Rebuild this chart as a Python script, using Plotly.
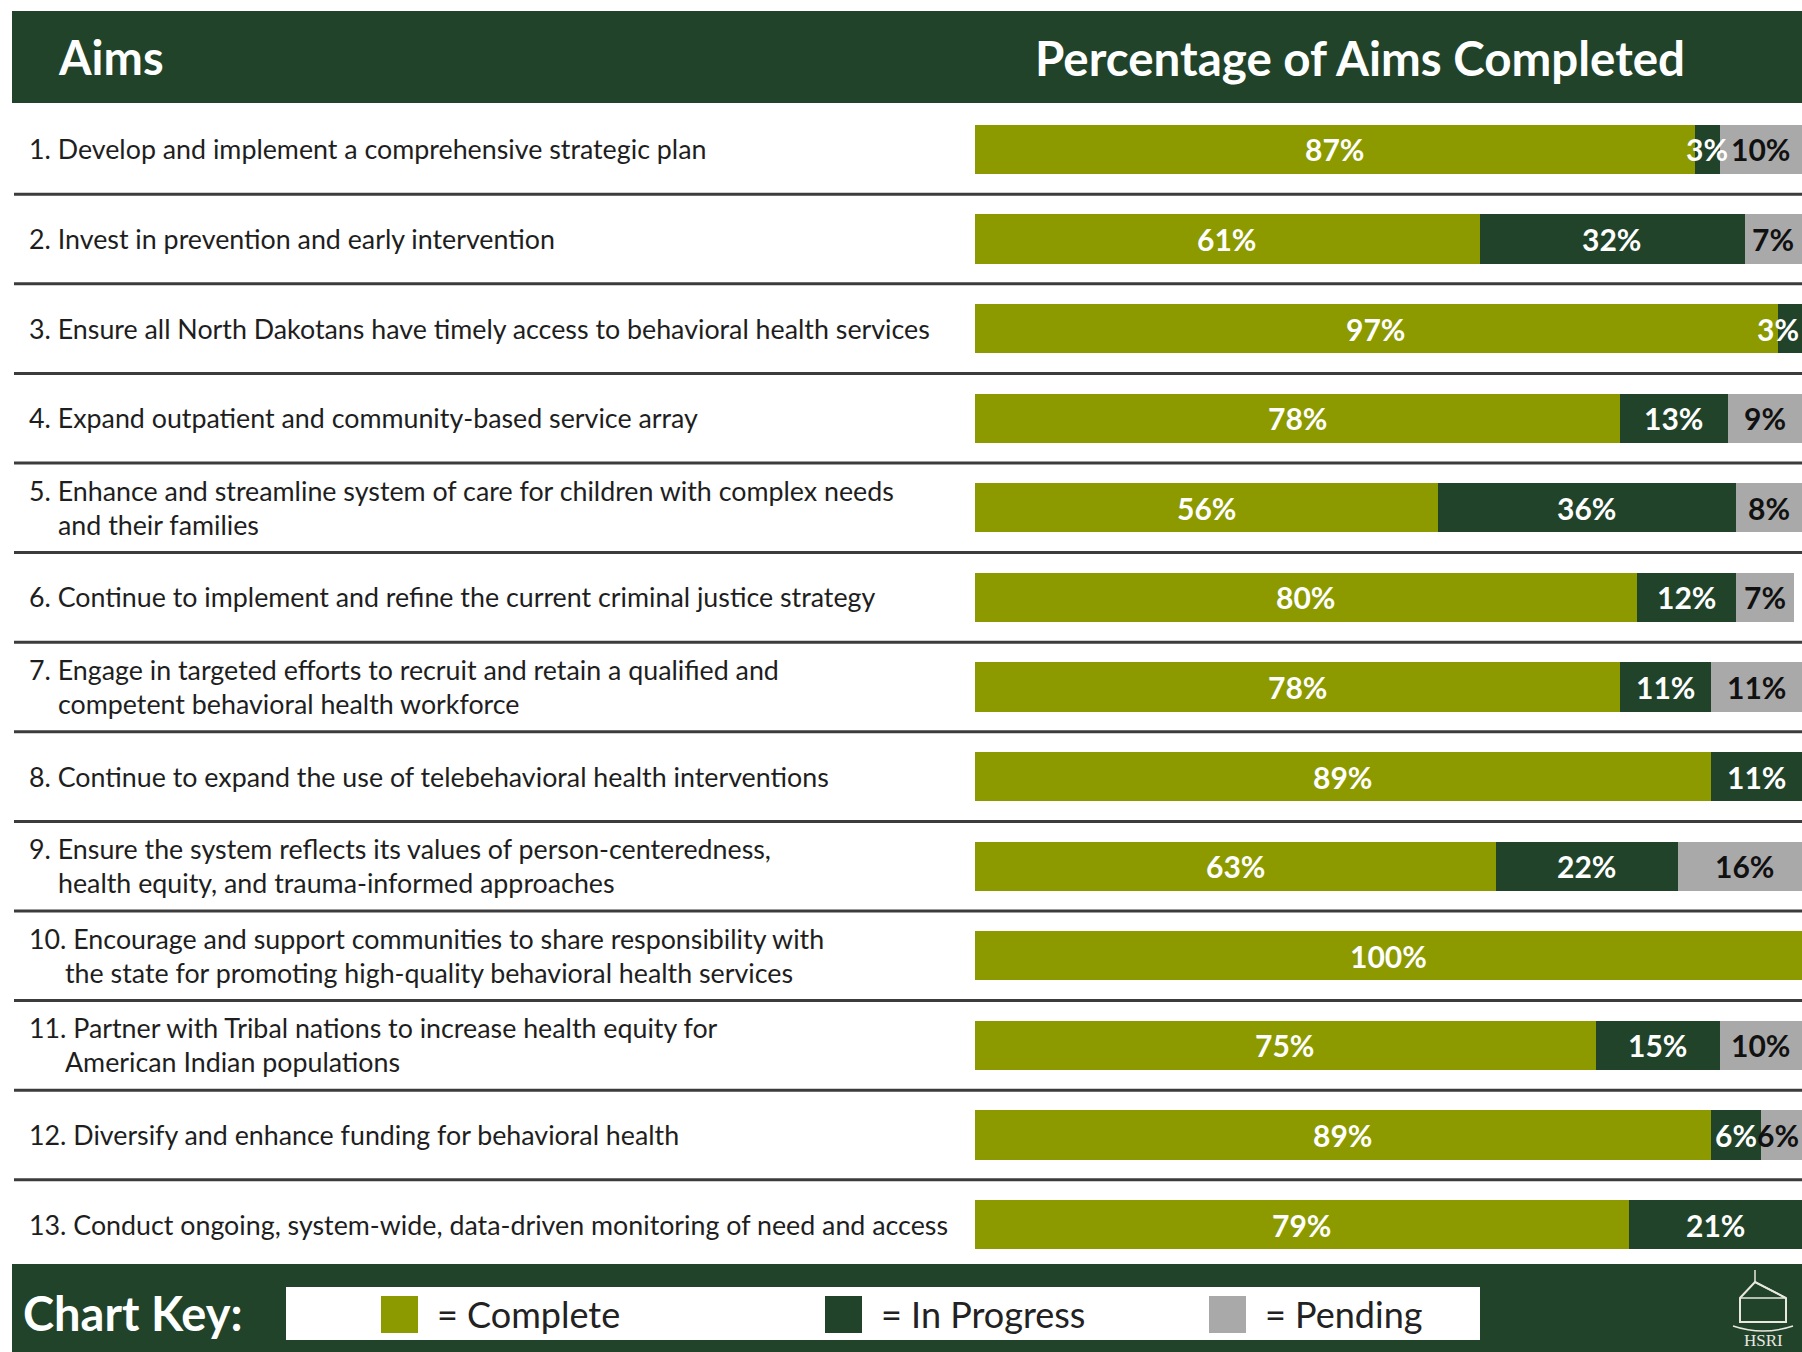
import plotly.graph_objects as go

# ---- data -------------------------------------------------------------
aims = [
    "1. Develop and implement a comprehensive strategic plan",
    "2. Invest in prevention and early intervention",
    "3. Ensure all North Dakotans have timely access to behavioral health services",
    "4. Expand outpatient and community-based service array",
    "5. Enhance and streamline system of care for children with complex needs\nand their families",
    "6. Continue to implement and refine the current criminal justice strategy",
    "7. Engage in targeted efforts to recruit and retain a qualified and\ncompetent behavioral health workforce",
    "8. Continue to expand the use of telebehavioral health interventions",
    "9. Ensure the system reflects its values of person-centeredness,\nhealth equity, and trauma-informed approaches",
    "10. Encourage and support communities to share responsibility with\nthe state for promoting high-quality behavioral health services",
    "11. Partner with Tribal nations to increase health equity for\nAmerican Indian populations",
    "12. Diversify and enhance funding for behavioral health",
    "13. Conduct ongoing, system-wide, data-driven monitoring of need and access",
]
complete = [87, 61, 97, 78, 56, 80, 78, 89, 63, 100, 75, 89, 79]
in_progress = [3, 32, 3, 13, 36, 12, 11, 11, 22, 0, 15, 6, 21]
pending = [10, 7, 0, 9, 8, 7, 11, 0, 16, 0, 10, 6, 0]

status_names = ["Complete", "In Progress", "Pending"]
status_colors = ["#8c9a00", "#21432a", "#a9a9a9"]
label_colors = ["white", "white", "#111111"]

header_left = "Aims"
header_right = "Percentage of Aims Completed"
key_title = "Chart Key:"

# ---- page geometry ----------------------------------------------------
W, H = 1802, 1352
FONT = "Lato"
DARK = "#21432a"


def px(x):
    return x / W


def py(y):
    return 1 - y / H


row_pitch = 89.6          # pixels between row centres
first_row = 149.4         # pixel centre of first row
n = len(aims)
y_top = -first_row / row_pitch
y_bottom = (H - first_row) / row_pitch

fig = go.Figure()
series = [complete, in_progress, pending]
idx = list(range(n))
for name, vals, col in zip(status_names, series, status_colors):
    fig.add_trace(go.Bar(
        y=idx, x=vals, name=name, orientation="h",
        marker=dict(color=col, line=dict(width=0)),
        width=0.55, showlegend=False, hoverinfo="x+name",
    ))

annotations = []
shapes = []

# value labels centred on each segment
for i in idx:
    start = 0
    for s, vals in enumerate(series):
        v = vals[i]
        if v <= 0:
            continue
        centre = start + v / 2
        ann = dict(x=centre, y=i, xref="x", yref="y", text=f"{v}%",
                   showarrow=False, xanchor="center", yanchor="middle",
                   font=dict(family=FONT, size=30, color=label_colors[s], weight="bold"))
        if centre > 97:
            ann.update(x=100, xanchor="right", xshift=-1)
        annotations.append(ann)
        start += v

# aim labels on the left
for i, text in enumerate(aims):
    lines = text.split("\n")
    number = text.split(".")[0]
    indent = 29 if len(number) == 1 else 36
    offsets = [0] if len(lines) == 1 else [17, -17]
    for k, (line, off) in enumerate(zip(lines, offsets)):
        annotations.append(dict(
            x=px(27), y=i, xref="paper", yref="y", text=line, showarrow=False,
            xanchor="left", yanchor="middle", yshift=off, xshift=indent if k else 0,
            font=dict(family=FONT, size=26.8, color="#1e1e1e"),
        ))

# row separators
for i in range(n - 1):
    shapes.append(dict(type="line", xref="paper", yref="y", x0=px(14), x1=1,
                       y0=i + 0.5, y1=i + 0.5, line=dict(color="#3c3c3c", width=3)))

# header band
shapes.append(dict(type="rect", xref="paper", yref="paper", x0=px(12), x1=1,
                   y0=py(103), y1=py(11), fillcolor=DARK, line=dict(width=0), layer="below"))
annotations.append(dict(x=px(56), y=py(57), xref="paper", yref="paper", text=header_left,
                        showarrow=False, xanchor="left", yanchor="middle",
                        font=dict(family=FONT, size=47, color="white", weight="bold")))
annotations.append(dict(x=px(1033), y=py(57), xref="paper", yref="paper", text=header_right,
                        showarrow=False, xanchor="left", yanchor="middle",
                        font=dict(family=FONT, size=47.5, color="white", weight="bold")))

# footer band with chart key
shapes.append(dict(type="rect", xref="paper", yref="paper", x0=px(12), x1=1,
                   y0=0, y1=py(1264), fillcolor=DARK, line=dict(width=0), layer="below"))
shapes.append(dict(type="rect", xref="paper", yref="paper", x0=px(286), x1=px(1480),
                   y0=py(1340), y1=py(1287), fillcolor="white", line=dict(width=0)))
annotations.append(dict(x=px(21), y=py(1313), xref="paper", yref="paper", text=key_title,
                        showarrow=False, xanchor="left", yanchor="middle",
                        font=dict(family=FONT, size=47, color="white", weight="bold")))
key_x = [381, 825, 1209]
for name, col, kx in zip(status_names, status_colors, key_x):
    shapes.append(dict(type="rect", xref="paper", yref="paper", x0=px(kx), x1=px(kx + 37),
                       y0=py(1333), y1=py(1296), fillcolor=col, line=dict(width=0)))
    annotations.append(dict(x=px(kx + 54), y=py(1314), xref="paper", yref="paper",
                            text=f"= {name}", showarrow=False, xanchor="left", yanchor="middle",
                            font=dict(family=FONT, size=36, color="#222222")))

# small house emblem at the bottom right
logo = "#e8e8e0"
house = ("M {a},{b} L {a},{c} L {d},{e} L {f},{c} L {f},{b} Z").format(
    a=px(1740), b=py(1322), c=py(1298), d=px(1755), e=py(1282), f=px(1786))
shapes.append(dict(type="path", xref="paper", yref="paper", path=house,
                   line=dict(color=logo, width=2)))
shapes.append(dict(type="path", xref="paper", yref="paper",
                   path="M {} {} L {} {} L {} {}".format(px(1740), py(1298), px(1786), py(1298),
                                                     px(1755), py(1282)),
                   line=dict(color=logo, width=1.5)))
shapes.append(dict(type="line", xref="paper", yref="paper", x0=px(1755), x1=px(1755),
                   y0=py(1282), y1=py(1270), line=dict(color=logo, width=1.5)))
shapes.append(dict(type="path", xref="paper", yref="paper",
                   path="M {} {} Q {} {} {} {}".format(px(1733), py(1326), px(1763), py(1336),
                                                     px(1793), py(1326)),
                   line=dict(color=logo, width=1.5)))
annotations.append(dict(x=px(1763), y=py(1340), xref="paper", yref="paper", text="HSRI",
                        showarrow=False, xanchor="center", yanchor="middle",
                        font=dict(family="Liberation Serif", size=17, color=logo)))

fig.update_layout(
    width=W, height=H, barmode="stack", bargap=0,
    margin=dict(l=0, r=0, t=0, b=0),
    paper_bgcolor="white", plot_bgcolor="white",
    xaxis=dict(range=[0, 100], domain=[px(974.5), 1], visible=False, fixedrange=True),
    yaxis=dict(range=[y_bottom, y_top], domain=[0, 1], visible=False, fixedrange=True),
    annotations=annotations, shapes=shapes, showlegend=False,
)

fig.write_html("out.html")
